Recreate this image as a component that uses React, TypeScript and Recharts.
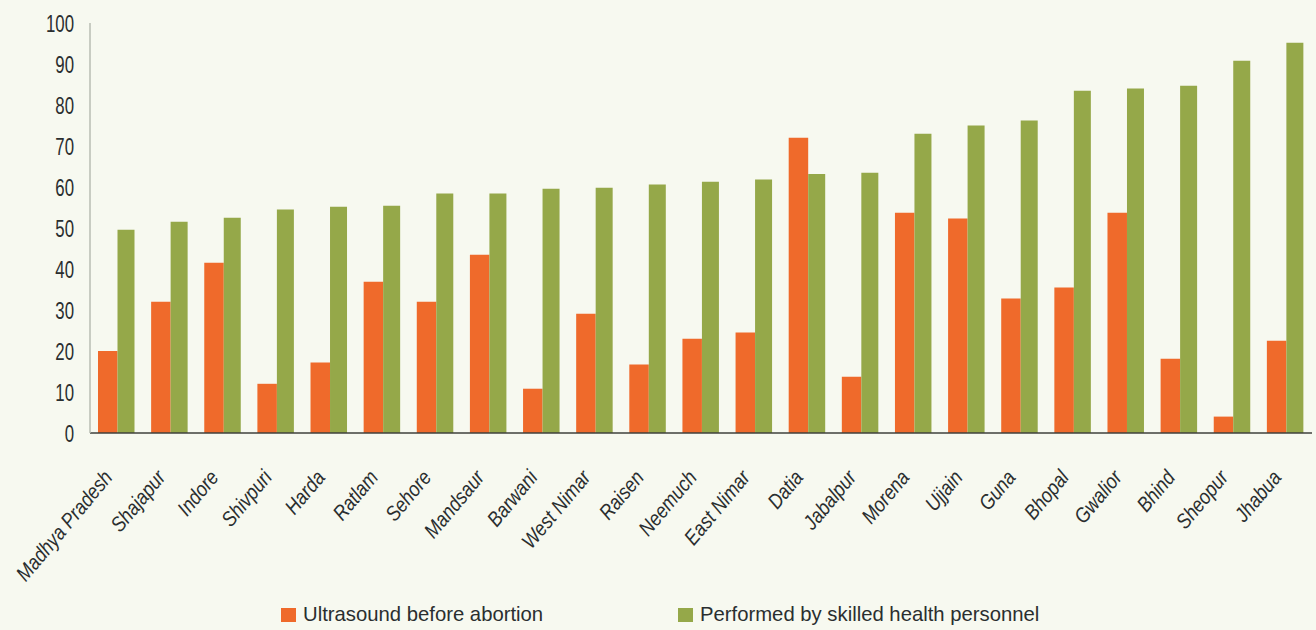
import { BarChart, Bar, XAxis, YAxis } from 'recharts';

const districts = [
  'Madhya Pradesh', 'Shajapur', 'Indore', 'Shivpuri', 'Harda', 'Ratlam', 'Sehore',
  'Mandsaur', 'Barwani', 'West Nimar', 'Raisen', 'Neemuch', 'East Nimar', 'Datia',
  'Jabalpur', 'Morena', 'Ujjain', 'Guna', 'Bhopal', 'Gwalior', 'Bhind', 'Sheopur', 'Jhabua',
];

const ultrasound = [
  20.0, 32.0, 41.5, 12.0, 17.2, 36.9, 32.0, 43.5, 10.8, 29.1, 16.7, 23.0,
  24.5, 72.0, 13.7, 53.7, 52.3, 32.8, 35.5, 53.7, 18.1, 4.0, 22.5,
];

const skilled = [
  49.6, 51.5, 52.5, 54.5, 55.2, 55.4, 58.4, 58.4, 59.6, 59.8, 60.6, 61.3,
  61.8, 63.2, 63.5, 73.0, 75.0, 76.2, 83.5, 84.0, 84.7, 90.8, 95.2,
];

const yTicks = [0, 10, 20, 30, 40, 50, 60, 70, 80, 90, 100];

const seriesNames = ['Ultrasound before abortion', 'Performed by skilled health personnel'];

const ORANGE = '#EF6A2B';
const GREEN = '#95A849';
const TEXT = '#2A2E2F';
const FONT = "'Liberation Sans', Arial, sans-serif";

const data = districts.map((name, i) => ({ name, ultrasound: ultrasound[i], skilled: skilled[i] }));

const YTick = ({ x, y, payload }: any) => (
  <text
    transform={`translate(${x},${y}) scale(0.7,1)`}
    textAnchor="end"
    dy="0.36em"
    fontSize={24}
    fontFamily={FONT}
    fill={TEXT}
  >
    {payload.value}
  </text>
);

// category labels: slanted, italic, a little condensed
const XTick = ({ x, y, payload }: any) => (
  <text
    transform={`translate(${x - 3},${y + 27}) rotate(-50) scale(0.86,1)`}
    textAnchor="end"
    fontSize={21}
    fontStyle="italic"
    fontFamily={FONT}
    fill={TEXT}
  >
    {payload.value}
  </text>
);

const LegendItem = ({ color, label, left }: { color: string; label: string; left: number }) => (
  <div style={{ position: 'absolute', left, top: 604, height: 21, display: 'flex', alignItems: 'center' }}>
    <div style={{ width: 15, height: 14, backgroundColor: color, marginRight: 7 }} />
    <span style={{ fontFamily: FONT, fontSize: 20.3, lineHeight: '21px', color: TEXT, whiteSpace: 'nowrap' }}>
      {label}
    </span>
  </div>
);

export default function App() {
  return (
    <div style={{ position: 'relative', width: 1316, height: 630, backgroundColor: '#F7F9F0' }}>
      <style>{'body{margin:0}'}</style>
      <BarChart
        width={1316}
        height={630}
        data={data}
        margin={{ top: 23, right: 4, left: 0, bottom: 47 }}
        barGap={0}
      >
        <XAxis
          dataKey="name"
          interval={0}
          height={150}
          tickLine={false}
          tickSize={0}
          tickMargin={18}
          stroke="#3F403C"
          strokeWidth={1.5}
          tick={<XTick />}
        />
        <YAxis
          width={90}
          domain={[0, 100]}
          ticks={yTicks}
          tickLine={false}
          tickSize={0}
          tickMargin={16}
          stroke="#B9BDB3"
          strokeWidth={1.5}
          tick={<YTick />}
        />
        <Bar dataKey="ultrasound" name={seriesNames[0]} fill={ORANGE} barSize={19.5} isAnimationActive={false} />
        <Bar dataKey="skilled" name={seriesNames[1]} fill={GREEN} barSize={17} isAnimationActive={false} />
      </BarChart>
      <LegendItem color={ORANGE} label={seriesNames[0]} left={281} />
      <LegendItem color={GREEN} label={seriesNames[1]} left={678} />
    </div>
  );
}
